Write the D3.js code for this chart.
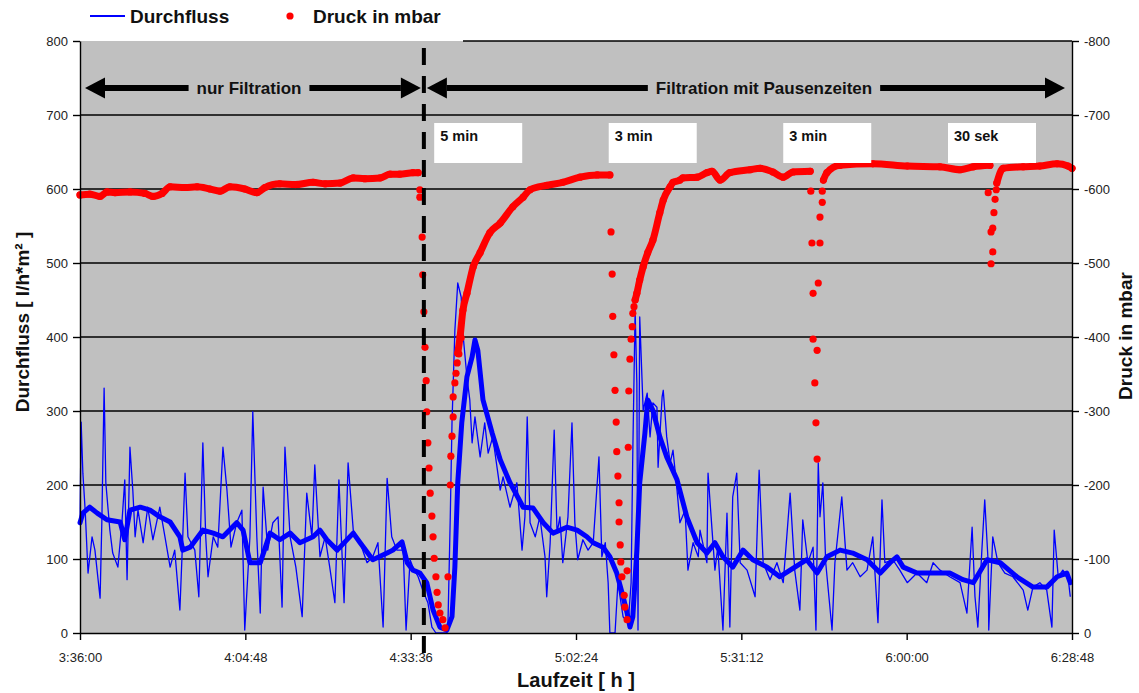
<!DOCTYPE html>
<html>
<head>
<meta charset="utf-8">
<title>Durchfluss und Druck</title>
<style>
  body { margin: 0; background: #fff; font-family: "Liberation Sans", Arial, sans-serif; }
  .achse .tick text { font-size: 13px; fill: #222; font-family: "Liberation Sans", Arial, sans-serif; }
  .achse path, .achse line { stroke: #000; stroke-width: 1.4px; }
  .gitter line { stroke: #000; stroke-width: 1.3px; }
  .titel { font-size: 19px; font-weight: bold; fill: #111; }
  .pfeiltext { font-size: 17px; font-weight: bold; fill: #111; }
  .pause text { font-size: 14.5px; font-weight: bold; fill: #111; }
</style>
</head>
<body>
<script src="https://d3js.org/d3.v7.min.js"></script>
<script>

// Achsen
var tickZeiten = ["3:36:00", "4:04:48", "4:33:36", "5:02:24", "5:31:12", "6:00:00", "6:28:48"];
var durchflussTicks = [0, 100, 200, 300, 400, 500, 600, 700, 800];
var druckTicks = [0, -100, -200, -300, -400, -500, -600, -700, -800];

// Beginn der Pausenzeiten (gestrichelte Linie)
var pauseBeginn = "4:35:54";

// Pausen-Beschriftung: [Minute, Text]
var pausen = [[277.7, "5 min"], [308.1, "3 min"], [338.5, "3 min"], [367.2, "30 sek"]];

// Durchfluss Rohwerte [Minute, l/h*m²]
var durchflussRoh = [
  [216.0,149],[216.2,285],[216.5,216],[216.9,166],[217.4,81],[218.1,130],[218.6,112],[219.5,47],[219.8,149],[220.2,331],
  [220.5,203],[221.2,139],[221.7,108],[222.6,89],[223.3,149],[223.8,207],[224.2,72],[224.7,251],[225.2,193],[225.6,130],
  [226.1,166],[227.0,122],[227.8,170],[228.7,126],[229.9,170],[230.8,130],[231.7,89],[232.5,112],[233.4,31],[233.9,130],
  [234.3,216],[234.8,130],[236.0,112],[236.7,49],[237.4,257],[237.9,130],[238.3,76],[239.2,130],[240.0,116],[240.9,251],
  [241.6,193],[242.3,116],[243.3,149],[244.2,166],[244.7,4],[245.6,130],[246.1,299],[246.8,130],[247.4,27],[247.9,197],
  [248.7,112],[249.6,149],[250.5,157],[251.2,35],[251.7,251],[252.6,130],[253.6,89],[254.7,22],[255.5,189],[256.4,130],
  [256.9,227],[257.8,103],[258.7,130],[259.5,89],[260.4,41],[261.1,207],[262.0,41],[262.7,230],[263.6,139],[264.8,122],
  [266.0,95],[267.0,103],[267.9,122],[268.8,8],[269.5,209],[270.3,130],[271.2,112],[272.3,112],[272.8,4],[273.5,99],
  [274.0,89],[274.9,76],[275.7,58],[276.6,41],[277.3,8],[278.0,0],[279.9,0],[280.1,14],[280.5,157],[280.8,284],
  [281.3,409],[281.8,473],[282.4,454],[282.7,405],[283.4,346],[283.9,315],[284.3,257],[284.8,292],[285.7,238],[286.5,284],
  [287.1,243],[287.9,265],[289.2,193],[289.7,211],[290.9,170],[292.1,203],[293.0,112],[293.5,157],[293.9,292],[294.4,149],
  [295.3,130],[296.1,157],[297.0,103],[297.3,49],[297.9,122],[298.6,274],[299.1,135],[299.6,157],[300.1,95],[301.0,157],
  [301.7,284],[302.2,149],[302.7,99],[303.6,126],[304.5,112],[305.4,122],[306.4,238],[306.9,103],[307.5,122],[308.0,68],
  [308.3,0],[309.2,0],[309.7,68],[310.6,22],[311.5,14],[312.0,68],[312.3,247],[312.7,436],[313.0,338],[313.2,4],
  [313.5,427],[314.1,301],[314.8,324],[315.3,265],[315.8,311],[316.5,305],[316.7,224],[317.4,319],[317.6,328],[318.2,265],
  [318.8,230],[319.3,247],[320.0,193],[320.5,149],[321.4,166],[321.9,85],[322.8,122],[323.7,103],[324.0,139],[325.2,95],
  [325.4,216],[326.1,139],[326.6,85],[327.1,116],[328.0,4],[328.7,162],[329.2,8],[329.7,184],[330.4,216],[331.0,95],
  [332.2,85],[333.6,49],[334.3,220],[335.0,95],[336.2,72],[337.4,95],[338.5,68],[339.7,189],[340.5,85],[341.4,31],
  [341.9,153],[342.8,95],[343.7,116],[344.2,4],[344.6,230],[344.9,157],[345.4,203],[345.9,95],[347.0,4],[347.5,95],
  [348.7,184],[349.6,85],[350.6,95],[351.9,76],[353.1,85],[354.1,130],[355.0,14],[355.7,180],[356.2,95],[357.6,99],
  [358.8,85],[360.1,68],[361.8,81],[363.5,68],[364.6,95],[365.8,85],[367.5,76],[369.3,68],[370.5,27],[371.4,143],
  [371.9,49],[372.4,8],[373.1,112],[373.6,180],[374.2,95],[374.3,4],[375.0,130],[375.9,95],[377.1,81],[378.5,76],
  [380.3,58],[381.1,31],[382.0,62],[383.2,68],[384.4,58],[385.3,8],[385.7,139],[386.4,76],[387.2,85],[388.1,76],[388.5,49]
];

// Durchfluss geglaettet [Minute, l/h*m²]
var durchflussMittel = [
  [216.0,149],[216.5,162],[217.7,170],[219.0,162],[220.7,153],[223.0,150],[223.8,126],[224.7,166],[226.5,170],[228.2,166],
  [229.9,157],[231.7,150],[233.4,130],[233.9,112],[235.2,116],[237.4,139],[239.2,135],[240.9,130],[243.3,149],[244.4,139],
  [245.6,95],[247.4,95],[249.1,135],[250.8,126],[252.6,135],[254.3,122],[256.6,130],[257.8,139],[259.0,126],[260.8,112],
  [263.6,135],[264.8,122],[267.0,99],[269.5,108],[270.5,112],[272.1,123],[273.0,95],[274.0,85],[275.2,81],[276.4,68],
  [277.5,31],[278.7,8],[279.9,4],[280.8,22],[281.3,89],[281.8,203],[282.5,284],[283.4,346],[284.3,373],[284.8,396],
  [285.3,382],[286.2,315],[287.8,270],[289.2,234],[290.9,203],[293.2,170],[294.9,169],[296.7,149],[298.4,135],[300.8,143],
  [302.6,139],[304.3,130],[305.4,122],[307.1,116],[308.3,103],[309.5,81],[310.6,49],[311.3,27],[311.8,8],[312.3,22],
  [313.0,112],[313.5,203],[314.4,270],[314.9,315],[315.8,301],[317.0,265],[318.2,238],[320.0,207],[321.7,157],[323.5,122],
  [325.2,108],[326.6,122],[328.0,103],[329.7,89],[331.5,112],[333.2,99],[335.7,89],[337.9,76],[339.7,85],[342.6,99],
  [344.4,81],[346.1,103],[348.4,112],[350.6,108],[353.1,99],[355.4,81],[357.1,95],[358.3,103],[359.4,89],[361.8,81],
  [364.6,81],[367.5,81],[369.8,72],[371.6,68],[374.0,99],[376.3,95],[379.2,76],[382.0,62],[384.4,62],[386.2,76],
  [387.9,81],[388.5,68]
];

// Druck in mbar, dichte Messreihen [Minute, mbar]
var druckVerlauf = [
  [[216.0,-592],[217.7,-593],[219.5,-590],[220.7,-596],[222.1,-595],[224.7,-596],[227.3,-594],[228.7,-590],[230.3,-594],
   [231.7,-603],[234.3,-602],[236.4,-603],[238.6,-600],[240.4,-597],[242.1,-603],[244.7,-600],[246.8,-595],[248.2,-602],
   [250.8,-607],[253.5,-606],[256.6,-609],[258.7,-607],[261.3,-608],[263.6,-615],[265.6,-614],[268.3,-615],[270.0,-620],
   [271.7,-620],[274.0,-622],[274.9,-622]],
  [[281.8,-378],[282.2,-400],[282.7,-436],[283.4,-459],[284.5,-495],[285.7,-514],[287.4,-541],[289.2,-554],[291.4,-576],
   [293.2,-589],[294.4,-599],[297.3,-605],[300.1,-609],[303.1,-616],[306.1,-619],[308.3,-619]],
  [[312.7,-450],[313.0,-459],[313.5,-477],[314.1,-495],[314.9,-514],[315.8,-531],[317.0,-568],[317.6,-585],[318.8,-603],
   [319.3,-609],[320.5,-612],[321.0,-615],[323.5,-616],[325.2,-622],[326.1,-624],[327.5,-612],[329.2,-622],[332.7,-626],
   [334.5,-628],[336.7,-623],[338.5,-616],[340.2,-623],[343.2,-624]],
  [[345.5,-612],[346.1,-622],[348.4,-632],[354.1,-634],[360.1,-631],[365.8,-630],[369.3,-626],[371.6,-630],[374.5,-632]],
  [[375.7,-608],[376.8,-628],[380.3,-630],[383.2,-631],[386.2,-634],[388.1,-631],[388.8,-628]]
];

// Druck in mbar, Einzelwerte waehrend der Pausen [Minute, mbar]
var druckEinzelwerte = [
  [275.2,-599],[275.2,-589],[275.6,-535],[275.7,-484],[275.9,-434],[276.1,-386],[276.3,-341],[276.4,-299],[276.6,-257],
  [276.8,-223],[277.0,-189],[277.3,-158],[277.5,-130],[277.7,-101],[278.0,-76],[278.2,-55],[278.4,-38],[278.7,-27],
  [279.2,-18],[279.6,-7],
  [280.1,-76],[280.5,-200],[280.6,-239],[280.8,-266],[281.0,-292],[281.0,-319],[281.3,-338],[281.5,-351],[281.7,-365],
  [282.0,-377],[282.4,-399],
  [308.5,-542],[308.7,-485],[308.8,-428],[309.0,-376],[309.2,-328],[309.4,-285],[309.5,-245],[309.7,-212],[309.9,-176],
  [309.9,-150],[310.1,-119],[310.2,-96],[310.4,-76],[310.8,-51],[310.9,-35],[311.3,-18],
  [311.3,-84],[311.5,-251],[311.6,-327],[311.8,-370],[312.0,-397],[312.2,-414],[312.3,-432],[312.5,-441],
  [343.3,-597],[343.5,-527],[343.7,-459],[343.7,-397],[344.0,-338],[344.2,-284],[344.4,-235],
  [344.4,-382],[344.6,-473],[344.9,-527],[344.9,-562],[345.3,-582],[345.3,-597],
  [374.2,-595],[374.7,-542],[374.7,-499],[375.0,-547],[375.0,-515],[375.2,-568],[375.4,-586],[375.6,-599]
];

function zuMinuten(s) {
  var p = s.split(":").map(Number);
  return p[0] * 60 + p[1] + p[2] / 60;
}

var width = 1139, height = 693;
var links = 80, rechts = 1072, oben = 41, unten = 633;
var legendeEnde = 463; // bis hier verdeckt die Legende den oberen Rand

var svg = d3.select("body").append("svg")
  .attr("width", width)
  .attr("height", height);

var tickMin = tickZeiten.map(zuMinuten);
var x = d3.scaleLinear().domain([tickMin[0], tickMin[tickMin.length - 1]]).range([links, rechts]);
var y = d3.scaleLinear().domain([0, 800]).range([unten, oben]);
var yDruck = d3.scaleLinear().domain([0, -800]).range([unten, oben]);

// Hintergrund
svg.append("rect")
  .attr("x", links).attr("y", oben)
  .attr("width", rechts - links).attr("height", unten - oben)
  .attr("fill", "#c0c0c0");

// Gitternetz
svg.append("g").attr("class", "gitter")
  .selectAll("line")
  .data(durchflussTicks.filter(function(d) { return d > 0; }))
  .enter().append("line")
  .attr("x1", function(d) { return d == 800 ? legendeEnde : links; })
  .attr("x2", rechts)
  .attr("y1", function(d) { return y(d); })
  .attr("y2", function(d) { return y(d); });

// Durchfluss
var linie = d3.line()
  .x(function(d) { return x(d[0]); })
  .y(function(d) { return y(d[1]); });

svg.append("path")
  .datum(durchflussRoh)
  .attr("d", linie)
  .attr("fill", "none")
  .attr("stroke", "#0000ff")
  .attr("stroke-width", 1.3)
  .attr("stroke-linejoin", "round");

svg.append("path")
  .datum(durchflussMittel)
  .attr("d", linie)
  .attr("fill", "none")
  .attr("stroke", "#0000ff")
  .attr("stroke-width", 5)
  .attr("stroke-linejoin", "round")
  .attr("stroke-linecap", "round");

// Druck
var druckLinie = d3.line()
  .curve(d3.curveMonotoneX)
  .x(function(d) { return x(d[0]); })
  .y(function(d) { return yDruck(d[1]); });

svg.append("g")
  .selectAll("path")
  .data(druckVerlauf)
  .enter().append("path")
  .attr("d", druckLinie)
  .attr("fill", "none")
  .attr("stroke", "#ff0000")
  .attr("stroke-width", 7)
  .attr("stroke-linecap", "round")
  .attr("stroke-linejoin", "round");

var allePunkte = druckEinzelwerte.concat(d3.merge(druckVerlauf));
svg.append("g")
  .selectAll("circle")
  .data(allePunkte)
  .enter().append("circle")
  .attr("cx", function(d) { return x(d[0]); })
  .attr("cy", function(d) { return yDruck(d[1]); })
  .attr("r", 3.6)
  .attr("fill", "#ff0000");

// Gestrichelte Linie: Beginn der Pausenzeiten
var xp = x(zuMinuten(pauseBeginn));
svg.append("line")
  .attr("x1", xp).attr("x2", xp)
  .attr("y1", 48).attr("y2", 662)
  .attr("stroke", "#000")
  .attr("stroke-width", 4)
  .attr("stroke-dasharray", "17,11");

// Doppelpfeile
function pfeil(x1, x2, yy, text, xt) {
  var g = svg.append("g");
  var k = 20, h = 10.5;
  g.append("line")
    .attr("x1", x1 + k).attr("x2", x2 - k)
    .attr("y1", yy).attr("y2", yy)
    .attr("stroke", "#000").attr("stroke-width", 6);
  g.append("path")
    .attr("d", "M" + x1 + "," + yy + "L" + (x1 + k) + "," + (yy - h) + "L" + (x1 + k) + "," + (yy + h) + "Z")
    .attr("fill", "#000");
  g.append("path")
    .attr("d", "M" + x2 + "," + yy + "L" + (x2 - k) + "," + (yy - h) + "L" + (x2 - k) + "," + (yy + h) + "Z")
    .attr("fill", "#000");
  var bg = g.append("rect").attr("fill", "#c0c0c0");
  var t = g.append("text")
    .attr("class", "pfeiltext")
    .attr("x", xt).attr("y", yy + 6)
    .attr("text-anchor", "middle")
    .text(text);
  var w = t.node().getComputedTextLength();
  bg.attr("x", xt - w / 2 - 8).attr("y", yy - 8)
    .attr("width", w + 16).attr("height", 16);
}
pfeil(links + 5, xp - 3, 88, "nur Filtration", 249);
pfeil(xp + 3, rechts - 7, 88, "Filtration mit Pausenzeiten", 764);

// Pausen-Kaesten
var pause = svg.append("g").attr("class", "pause")
  .selectAll("g")
  .data(pausen)
  .enter().append("g")
  .attr("transform", function(d) { return "translate(" + x(d[0]) + ",123)"; });
pause.append("rect")
  .attr("width", 88).attr("height", 40)
  .attr("fill", "#fff");
pause.append("text")
  .attr("x", 6).attr("y", 18)
  .text(function(d) { return d[1]; });

// Achsen
svg.append("g").attr("class", "achse")
  .attr("transform", "translate(" + links + ",0)")
  .call(d3.axisLeft(y).tickValues(durchflussTicks).tickSize(7).tickSizeOuter(0).tickPadding(5));

svg.append("g").attr("class", "achse")
  .attr("transform", "translate(" + rechts + ",0)")
  .call(d3.axisRight(yDruck).tickValues(druckTicks).tickSize(7).tickSizeOuter(0).tickPadding(5)
    .tickFormat(function(d) { return String(d); }));

svg.append("g").attr("class", "achse")
  .attr("transform", "translate(0," + unten + ")")
  .call(d3.axisBottom(x).tickValues(tickMin).tickSize(7).tickSizeOuter(0).tickPadding(13)
    .tickFormat(function(d, i) { return tickZeiten[i]; }));

// Legende
svg.append("line")
  .attr("x1", 90).attr("x2", 125).attr("y1", 16).attr("y2", 16)
  .attr("stroke", "#0000ff").attr("stroke-width", 2);
svg.append("text").attr("class", "titel")
  .attr("x", 130).attr("y", 23).text("Durchfluss");
svg.append("circle")
  .attr("cx", 290).attr("cy", 16).attr("r", 3.6).attr("fill", "#ff0000");
svg.append("text").attr("class", "titel")
  .attr("x", 313).attr("y", 23).text("Druck in mbar");

// Achsentitel
svg.append("text").attr("class", "titel")
  .attr("x", (links + rechts) / 2).attr("y", 687)
  .attr("text-anchor", "middle")
  .style("font-size", "20px")
  .text("Laufzeit [ h ]");

svg.append("text").attr("class", "titel")
  .attr("transform", "translate(29,322) rotate(-90)")
  .attr("text-anchor", "middle")
  .text("Durchfluss [ l/h*m² ]");

svg.append("text").attr("class", "titel")
  .attr("transform", "translate(1132,336) rotate(-90)")
  .attr("text-anchor", "middle")
  .text("Druck in mbar");

</script>
</body>
</html>
